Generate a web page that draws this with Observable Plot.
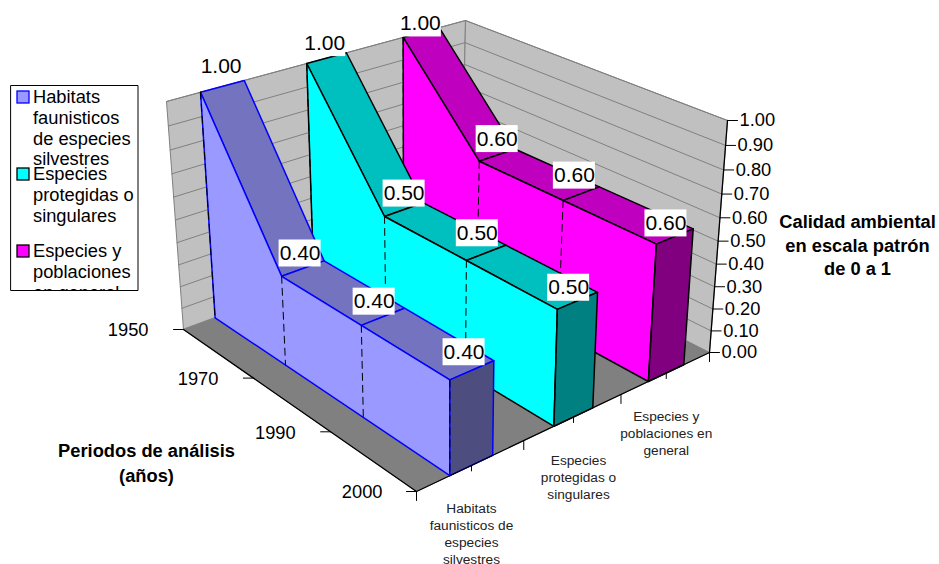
<!DOCTYPE html>
<html><head><meta charset="utf-8">
<style>html,body{margin:0;padding:0;background:#fff}</style>
<script src="https://cdn.jsdelivr.net/npm/d3@7"></script>
<script src="https://cdn.jsdelivr.net/npm/@observablehq/plot@0.6"></script>
</head><body><script>
const periods = ["1950","1970","1990","2000"];
const seriesLabels = ["Habitats\nfaunisticos de\nespecies\nsilvestres","Especies\nprotegidas o\nsingulares","Especies y\npoblaciones en\ngeneral"];
const habitats = [1.00,0.40,0.40,0.40];
const protegidas = [1.00,0.50,0.50,0.50];
const poblaciones = [1.00,0.60,0.60,0.60];
const valueTicks = [0,0.1,0.2,0.3,0.4,0.5,0.6,0.7,0.8,0.9,1];
const legendLines = [["Habitats","faunisticos","de especies","silvestres"],["Especies","protegidas o","singulares"],["Especies y","poblaciones","en general"]];

const FONT = "'Liberation Sans', Arial, sans-serif";
const styles = [
  {face:"#9999FF",top:"#7373BF",end:"#4D4D80",line:"#0000FF"},
  {face:"#00FFFF",top:"#00BFBF",end:"#008080",line:"#000000"},
  {face:"#FF00FF",top:"#BF00BF",end:"#800080",line:"#000000"}
];
const series = [habitats,protegidas,poblaciones];

// perspective box of the 3-D chart: corners [depth u][side s]
const floorC = [[[183,329],[461,226]],[[416,491],[709,352]]];
const roofC  = [[[166,101],[465,20]],[[413.7,237],[727,120]]];
const warp = (t,a) => t*a/(1+t*(a-1));
const mix = (p,q,t) => [p[0]+(q[0]-p[0])*t,p[1]+(q[1]-p[1])*t];
function project(period,seriesPos,value){
  const u = warp(period/(periods.length-1),0.857);
  const s = warp(seriesPos/series.length,1.155);
  const v = warp(value,0.923);
  const side = c => mix(mix(c[0][0],c[1][0],u),mix(c[0][1],c[1][1],u),s);
  return mix(side(floorC),side(roofC),v);
}
const pt = p => ({x:p[0],y:p[1]});
const marks = [];
function poly(points,fill,stroke,sw=1){
  marks.push(Plot.line(points.map(pt),{x:"x",y:"y",fill,stroke:stroke||"none",strokeWidth:sw,curve:"linear-closed",strokeLinejoin:"round"}));
}
function seg(a,b,stroke,sw=1,dash){
  marks.push(Plot.line([a,b].map(pt),{x:"x",y:"y",stroke,strokeWidth:sw,strokeDasharray:dash}));
}
const P = periods.length-1, S = series.length;

// walls
poly([project(0,0,0),project(0,0,1),project(0,S,1),project(0,S,0)],"#C0C0C0","#808080");
poly([project(0,S,0),project(0,S,1),project(P,S,1),project(P,S,0)],"#C0C0C0","#808080");
for(const t of valueTicks.slice(1)){
  seg(project(0,0,t),project(0,S,t),"#808080");
  seg(project(0,S,t),project(P,S,t),"#808080");
}
// floor
poly([project(0,0,0),project(P,0,0),project(P,S,0),project(0,S,0)],"#808080","#808080");

// ribbons, back to front
for(let k=S-1;k>=0;k--){
  const vals=series[k], st=styles[k], a=k+0.3, b=k+0.7;
  for(let i=0;i<P;i++){
    poly([project(i,a,vals[i]),project(i,b,vals[i]),project(i+1,b,vals[i+1]),project(i+1,a,vals[i+1])],st.top,st.line,1.5);
  }
  const face=[project(0,a,0)];
  vals.forEach((v,i)=>face.push(project(i,a,v)));
  face.push(project(P,a,0));
  poly(face,st.face,st.line,1.5);
  poly([project(P,a,0),project(P,a,vals[P]),project(P,b,vals[P]),project(P,b,0)],st.end,st.line,1.5);
  vals.forEach((v,i)=>seg(project(i,a,v),project(i,a,0),"#000",1,"7,5"));
}

// axes
seg(project(0,0,0),project(P,0,0),"#000",1.3);
seg(project(P,0,0),project(P,S,0),"#000",1.3);
seg(project(P,S,0),project(P,S,1),"#000",1.3);
valueTicks.forEach(t=>{const p=project(P,S,t);seg(p,[p[0]+10,p[1]],"#000");});
periods.forEach((_,i)=>{const p=project(i,0,0);seg(p,[p[0]-10,p[1]],"#000");});
for(let j=0;j<=2*S;j++){const p=project(P,j/2,0);seg(p,[p[0],p[1]+(j%2?5.5:9)],"#000");}

const text=(d,o)=>marks.push(Plot.text(d,{fontSize:18.3,fill:"#000",...o}));
text(valueTicks.map(t=>{const p=project(P,S,t);return {x:p[0]+12,y:p[1],t:t.toFixed(2)};}),{x:"x",y:"y",text:"t",textAnchor:"start"});
text(periods.map((t,i)=>{const p=project(i,0,0);return {x:p[0]-(i==P?34:35),y:p[1]+1,t};}),{x:"x",y:"y",text:"t",textAnchor:"end"});
const catTop=[508,460,416], catNudge=[0,5,0];
seriesLabels.forEach((t,k)=>{
  const p=project(P,k+0.5,0);
  t.split("\n").forEach((line,j)=>text([{x:p[0]+catNudge[k],y:catTop[k]+j*17,t:line}],{x:"x",y:"y",text:"t",fontSize:13.7,fill:"#222"}));
});
["Calidad ambiental","en escala patrón","de 0 a 1"].forEach((t,j)=>text([{x:857,y:222+j*23.5,t}],{x:"x",y:"y",text:"t",fontWeight:"bold"}));
["Periodos de análisis","(años)"].forEach((t,j)=>text([{x:146,y:451+j*25,t}],{x:"x",y:"y",text:"t",fontWeight:"bold"}));

// data labels with white boxes
const labelNudge=[
  [[-1.5,-20],[-3,-15],[-9,-15],[-8,-18]],
  [[-2,-15],[0,-16],[-9,-19.5],[-9,-13]],
  [[-1,-9],[0,-16],[-7,-18],[-9,-13]]
];
series.forEach((vals,k)=>vals.forEach((v,i)=>{
  const c=project(i,k+0.5,v), cx=c[0]+labelNudge[k][i][0], cy=c[1]+labelNudge[k][i][1];
  marks.push(Plot.rect([{x1:cx-21,x2:cx+21,y1:cy-13.5,y2:cy+13.5}],{x1:"x1",x2:"x2",y1:"y1",y2:"y2",fill:"#fff"}));
  text([{x:cx,y:cy,t:v.toFixed(2)}],{x:"x",y:"y",text:"t",fontSize:21});
}));

// legend
legendLines.forEach((lines,k)=>{
  const y0=[97,174,251][k];
  lines.forEach((t,j)=>text([{x:32.5,y:y0+j*20.6,t}],{x:"x",y:"y",text:"t",textAnchor:"start"}));
  marks.push(Plot.rect([{x1:17,x2:29,y1:y0-6,y2:y0+6}],{x1:"x1",x2:"x2",y1:"y1",y2:"y2",fill:styles[k].face,stroke:styles[k].line,strokeWidth:1.3}));
});
marks.push(Plot.rect([{x1:0,x2:160,y1:290,y2:305}],{x1:"x1",x2:"x2",y1:"y1",y2:"y2",fill:"#fff"}));
poly([[10.5,85],[137.5,85],[137.5,290],[10.5,290]],"none","#000");

const chart = Plot.plot({
  width:939,height:564,margin:0,
  style:{fontFamily:FONT,background:"#fff"},
  x:{type:"linear",domain:[0,939],range:[0,939],axis:null},
  y:{type:"linear",domain:[0,564],range:[0,564],axis:null},
  marks
});
document.body.appendChild(chart);
</script></body></html>
